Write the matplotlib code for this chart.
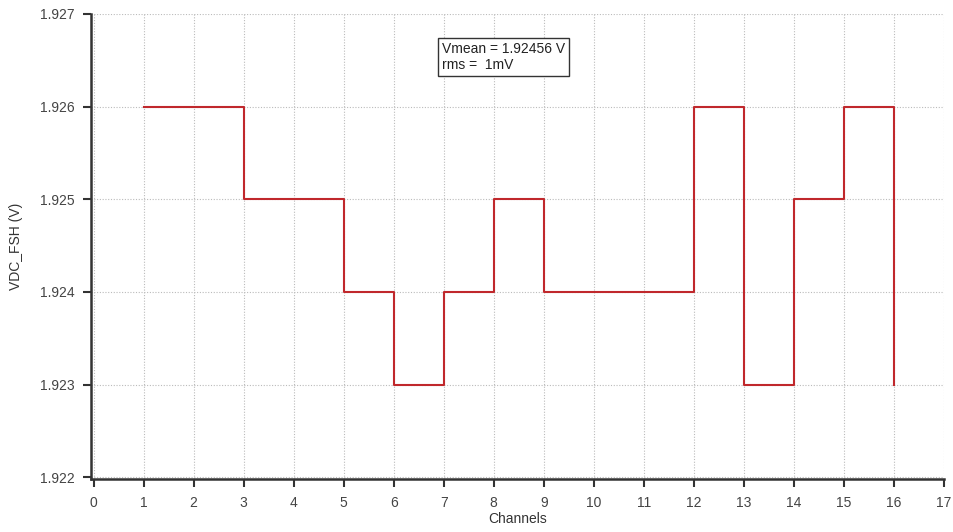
import matplotlib
matplotlib.use("Agg")
import matplotlib.pyplot as plt

plt.rcParams['font.family'] = ['Liberation Sans', 'DejaVu Sans']

channels = [1, 2, 3, 4, 5, 6, 7, 8, 9, 10, 11, 12, 13, 14, 15, 16]
vdc = [1.926, 1.926, 1.925, 1.925, 1.924, 1.923, 1.924, 1.925,
       1.924, 1.924, 1.924, 1.926, 1.923, 1.925, 1.926, 1.923]
xticks = list(range(0, 18))
yticks = [1.922, 1.923, 1.924, 1.925, 1.926, 1.927]

fig = plt.figure(figsize=(9.54, 5.32), dpi=100)
ax = fig.add_axes([0.0954, 0.0996, 0.8941, 0.8741])
ax.step(channels, vdc, where='post', color='#c0282c', lw=1.5)
ax.set_xlim(-0.05, 17)
ax.set_ylim(1.92198, 1.927)
ax.set_xticks(xticks)
ax.set_yticks(yticks)
ax.set_yticklabels([f"{v:.3f}" for v in yticks])
ax.grid(True, linestyle=(0, (1, 1.5)), color='#bbbbbb', lw=0.8)
for s in ['top', 'right']:
    ax.spines[s].set_visible(False)
for s in ['left', 'bottom']:
    ax.spines[s].set_linewidth(1.8)
    ax.spines[s].set_color('#333333')
ax.tick_params(direction='out', length=6, width=1.5, color='#333333',
               labelsize=10, labelcolor='#444444', pad=6)
ax.set_xlabel('Channels', fontsize=10, color='#333333', labelpad=2)
ax.set_ylabel('VDC_FSH (V)', fontsize=10, color='#333333', labelpad=12)
ax.text(0.4115, 0.94, 'Vmean = 1.92456 V\nrms =  1mV', transform=ax.transAxes,
        fontsize=10, color='#222222', va='top', ha='left', linespacing=1.15,
        bbox=dict(boxstyle='square,pad=0.3', fc='white', ec='#333333', lw=1))
fig.savefig('out.png', dpi=100)
